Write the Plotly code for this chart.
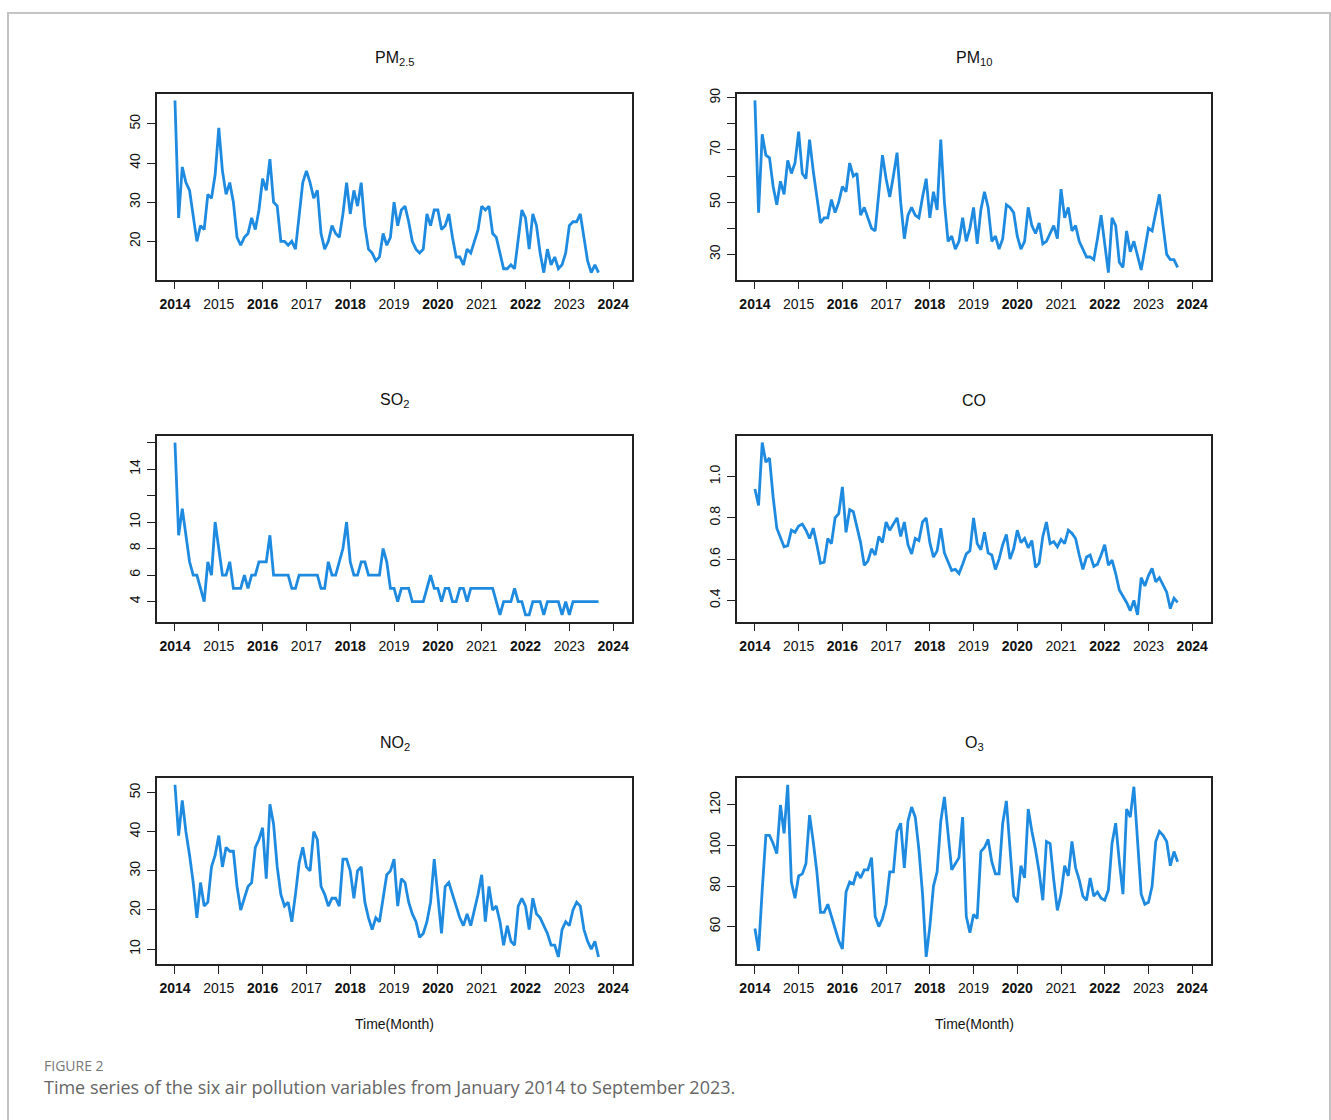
import plotly.graph_objects as go

# ---------------- data (monthly, Jan 2014 - Sep 2023) ----------------
pm25 = [56, 26, 39, 35, 33, 26, 20, 24, 23, 32, 31, 37,
        49, 38, 32, 35, 30, 21, 19, 21, 22, 26, 23, 28,
        36, 33, 41, 30, 29, 20, 20, 19, 20, 18, 27, 35,
        38, 35, 31, 33, 22, 18, 20, 24, 22, 21, 27, 35,
        27, 33, 29, 35, 24, 18, 17, 15, 16, 22, 19, 21,
        30, 24, 28, 29, 25, 20, 18, 17, 18, 27, 24, 28,
        28, 23, 24, 27, 21, 16, 16, 14, 18, 17, 20, 23,
        29, 28, 29, 22, 21, 17, 13, 13, 14, 13, 20, 28,
        26, 18, 27, 24, 17, 12, 18, 14, 16, 13, 14, 17,
        24, 25, 25, 27, 21, 15, 12, 14, 12]

pm10 = [89, 46, 76, 68, 67, 56, 49, 58, 53, 66, 61, 65,
        77, 61, 59, 74, 62, 51, 42, 44, 44, 51, 46, 50,
        56, 54, 65, 60, 61, 45, 48, 44, 40, 39, 54, 68,
        59, 52, 60, 69, 50, 36, 45, 48, 45, 44, 52, 59,
        44, 54, 47, 74, 50, 35, 37, 32, 35, 44, 35, 40,
        48, 34, 47, 54, 48, 35, 37, 32, 36, 49, 48, 46,
        37, 32, 35, 48, 41, 38, 42, 34, 35, 38, 41, 36,
        55, 44, 48, 39, 41, 35, 32, 29, 29, 28, 36, 45,
        34, 23, 44, 41, 27, 25, 39, 31, 35, 30, 24, 32,
        40, 39, 46, 53, 41, 30, 28, 28, 25]

so2 = [16, 9, 11, 9, 7, 6, 6, 5, 4, 7, 6, 10,
       8, 6, 6, 7, 5, 5, 5, 6, 5, 6, 6, 7,
       7, 7, 9, 6, 6, 6, 6, 6, 5, 5, 6, 6,
       6, 6, 6, 6, 5, 5, 7, 6, 6, 7, 8, 10,
       7, 6, 6, 7, 7, 6, 6, 6, 6, 8, 7, 5,
       5, 4, 5, 5, 5, 4, 4, 4, 4, 5, 6, 5,
       5, 4, 5, 5, 4, 4, 5, 5, 4, 5, 5, 5,
       5, 5, 5, 5, 4, 3, 4, 4, 4, 5, 4, 4,
       3, 3, 4, 4, 4, 3, 4, 4, 4, 4, 3, 4,
       3, 4, 4, 4, 4, 4, 4, 4, 4]

co = [0.94, 0.86, 1.165, 1.07, 1.09, 0.90, 0.75, 0.70, 0.66, 0.665, 0.74, 0.73,
      0.76, 0.77, 0.74, 0.70, 0.75, 0.67, 0.58, 0.585, 0.70, 0.675, 0.80, 0.82,
      0.95, 0.73, 0.84, 0.83, 0.75, 0.68, 0.57, 0.59, 0.65, 0.62, 0.71, 0.68,
      0.78, 0.74, 0.77, 0.80, 0.71, 0.78, 0.67, 0.625, 0.70, 0.69, 0.78, 0.80,
      0.68, 0.61, 0.64, 0.75, 0.63, 0.59, 0.545, 0.55, 0.53, 0.575, 0.625, 0.64,
      0.80, 0.675, 0.645, 0.73, 0.63, 0.62, 0.55, 0.60, 0.67, 0.72, 0.60, 0.65,
      0.74, 0.68, 0.70, 0.655, 0.69, 0.56, 0.58, 0.71, 0.78, 0.675, 0.685, 0.66,
      0.695, 0.675, 0.74, 0.725, 0.70, 0.62, 0.55, 0.61, 0.62, 0.565, 0.575, 0.62,
      0.67, 0.57, 0.595, 0.53, 0.45, 0.42, 0.39, 0.35, 0.40, 0.33, 0.51, 0.47,
      0.52, 0.555, 0.49, 0.51, 0.475, 0.44, 0.36, 0.41, 0.39]

no2 = [52, 39, 48, 40, 34, 27, 18, 27, 21, 22, 31, 34,
       39, 31, 36, 35, 35, 26, 20, 23, 26, 27, 36, 38,
       41, 28, 47, 42, 31, 24, 21, 22, 17, 24, 32, 36,
       31, 30, 40, 38, 26, 24, 21, 23, 23, 21, 33, 33,
       30, 23, 30, 31, 22, 18, 15, 18, 17, 23, 29, 30,
       33, 21, 28, 27, 22, 19, 17, 13, 14, 17, 22, 33,
       24, 14, 26, 27, 24, 21, 18, 16, 19, 16, 20, 24,
       29, 17, 26, 20, 21, 17, 11, 16, 12, 11, 21, 23,
       21, 15, 23, 19, 18, 16, 14, 11, 11, 8, 15, 17,
       16, 20, 22, 21, 15, 12, 10, 12, 8]

o3 = [59, 48, 78, 105, 105, 101, 96, 120, 106, 130, 82, 74,
      85, 86, 91, 115, 102, 87, 67, 67, 71, 65, 59, 53,
      49, 77, 82, 81, 87, 84, 88, 88, 94, 65, 60, 64,
      71, 87, 87, 107, 111, 89, 112, 119, 114, 98, 76, 45,
      60, 80, 87, 112, 124, 107, 88, 91, 94, 114, 65, 57,
      66, 64, 97, 99, 103, 92, 86, 86, 111, 122, 100, 75,
      72, 90, 84, 118, 107, 98, 87, 73, 102, 101, 83, 68,
      76, 90, 85, 102, 89, 83, 75, 73, 84, 75, 77, 74,
      73, 78, 101, 111, 92, 76, 118, 114, 129, 102, 76, 71,
      72, 80, 102, 107, 105, 102, 90, 97, 92]

# time index in fractional years (monthly series starting Jan 2014)
months = [2014 + i / 12 for i in range(len(pm25))]

years = list(range(2014, 2025))
year_labels = [f"<b>{y}</b>" if y % 2 == 0 else str(y) for y in years]

titles = ["PM<sub>2.5</sub>", "PM<sub>10</sub>", "SO<sub>2</sub>", "CO",
          "NO<sub>2</sub>", "O<sub>3</sub>"]
series = [pm25, pm10, so2, co, no2, o3]
# labelled y ticks
y_tickvals = [[20, 30, 40, 50],
              [30, 50, 70, 90],
              [4, 6, 8, 10, 14],
              [0.4, 0.6, 0.8, 1.0],
              [10, 20, 30, 40, 50],
              [60, 80, 100, 120]]
y_ticktext = [["20", "30", "40", "50"],
              ["30", "50", "70", "90"],
              ["4", "6", "8", "10", "14"],
              ["0.4", "0.6", "0.8", "1.0"],
              ["10", "20", "30", "40", "50"],
              ["60", "80", "100", "120"]]
# tick marks drawn without a label (labels dropped for overlap)
y_unlabelled = [[], [40, 60, 80], [12, 16], [], [], []]

# ---------------- layout geometry (pixels) ----------------
W, H = 1331, 1120
cols = [(157, 632), (737, 1211)]
rows = [(88, 275), (432, 619), (776, 963)]
BLUE = "#1E8BE0"
FONT = "Liberation Sans, Arial, sans-serif"

fig = go.Figure()
annotations = []
for i, (vals, title) in enumerate(zip(series, titles)):
    r, c = divmod(i, 2)
    x0, x1 = cols[c]
    y0, y1 = rows[r]
    n = i + 1
    xa = "x" if n == 1 else f"x{n}"
    ya = "y" if n == 1 else f"y{n}"
    fig.add_trace(go.Scatter(x=months, y=vals, mode="lines",
                             line=dict(color=BLUE, width=2.8),
                             xaxis=xa, yaxis=ya, showlegend=False,
                             hoverinfo="x+y"))
    lo, hi = min(vals), max(vals)
    pad = (hi - lo) * 0.04
    axis_common = dict(showline=True, mirror=True, linecolor="#222",
                       linewidth=1.5, ticks="outside", ticklen=8,
                       tickwidth=1.2, tickcolor="#222", showgrid=False,
                       zeroline=False,
                       tickfont=dict(family=FONT, size=14, color="#111"))
    fig.layout[f"xaxis{'' if n == 1 else n}"] = dict(
        domain=[x0 / W, x1 / W], anchor=ya, range=[2013.59, 2024.43],
        tickmode="array", tickvals=years, ticktext=year_labels,
        ticklabelstandoff=3, **axis_common)
    ydict = dict(
        domain=[1 - y1 / H, 1 - y0 / H], anchor=xa,
        range=[lo - pad, hi + pad], tickmode="array",
        tickvals=y_tickvals[i], ticktext=y_ticktext[i], tickangle=-90,
        ticklabelstandoff=2, **axis_common)
    if y_unlabelled[i]:
        ydict["minor"] = dict(tickmode="array", tickvals=y_unlabelled[i],
                              ticks="outside", ticklen=8, tickwidth=1.2,
                              tickcolor="#222", showgrid=False)
    fig.layout[f"yaxis{'' if n == 1 else n}"] = ydict
    annotations.append(dict(text=title, x=(x0 + x1) / 2 / W, y=1 - (y0 - 35) / H,
                            xref="paper", yref="paper", showarrow=False,
                            xanchor="center", yanchor="middle",
                            font=dict(family=FONT, size=16, color="#111")))
    if r == 2:
        annotations.append(dict(text="Time(Month)", x=(x0 + x1) / 2 / W,
                                y=1 - 1023 / H, xref="paper", yref="paper",
                                showarrow=False, xanchor="center",
                                yanchor="middle",
                                font=dict(family=FONT, size=14, color="#111")))

annotations.append(dict(text="FIGURE 2", x=42 / W, y=1 - 1065 / H,
                        xref="paper", yref="paper", showarrow=False,
                        xanchor="left", yanchor="middle",
                        font=dict(family="Open Sans, sans-serif", size=14,
                                  color="#777")))
annotations.append(dict(text="Time series of the six air pollution variables "
                             "from January 2014 to September 2023.",
                        x=42 / W, y=1 - 1087 / H, xref="paper", yref="paper",
                        showarrow=False, xanchor="left", yanchor="middle",
                        font=dict(family="Open Sans, sans-serif", size=18,
                                  color="#666")))

fig.update_layout(
    width=W, height=H, margin=dict(l=0, r=0, t=0, b=0),
    paper_bgcolor="white", plot_bgcolor="white",
    annotations=annotations,
    shapes=[dict(type="rect", xref="paper", yref="paper",
                 x0=8 / W, x1=1330 / W, y0=-0.05, y1=1 - 7 / H,
                 line=dict(color="#c4c4c4", width=2), layer="below")],
)

fig.write_html("out.html")
